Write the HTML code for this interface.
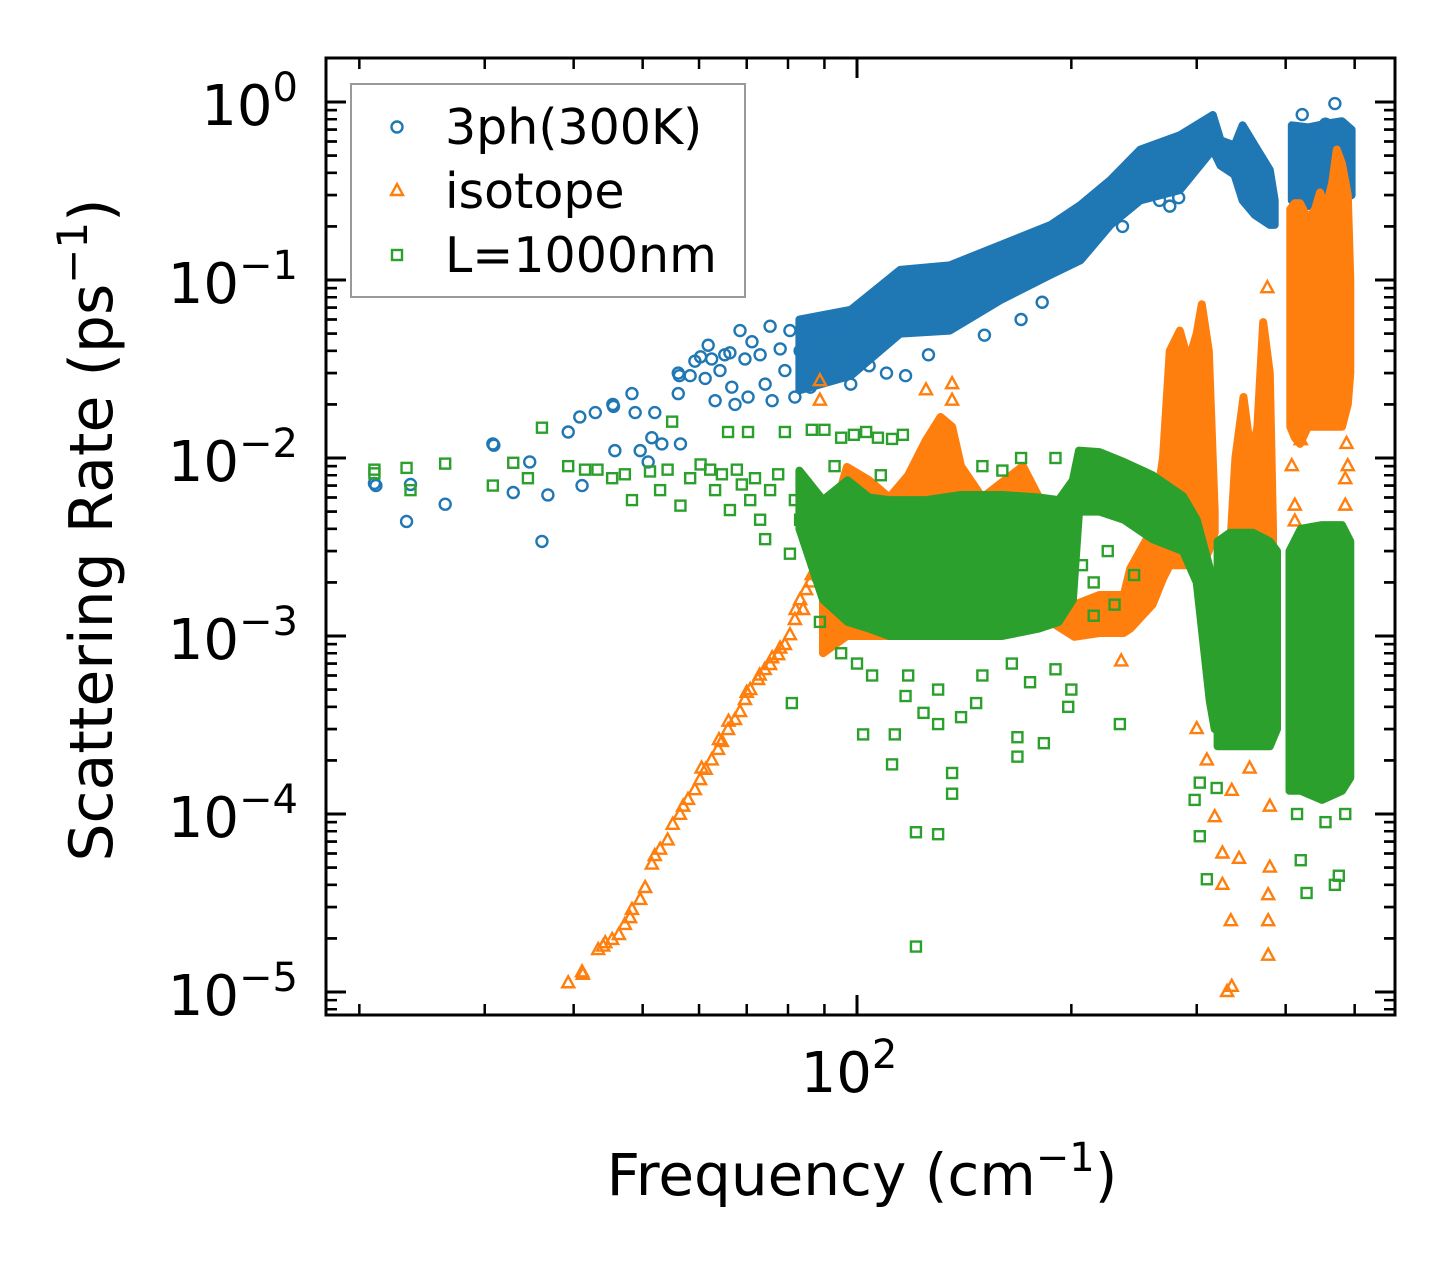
<!DOCTYPE html>
<html><head><meta charset="utf-8"><title>Scattering Rate</title>
<style>
html,body{margin:0;padding:0;background:#fff;}
svg{display:block;font-family:"DejaVu Sans","Liberation Sans",sans-serif;}
</style></head>
<body>
<svg id="chart" width="1455" height="1265" viewBox="0 0 1455 1265" xmlns="http://www.w3.org/2000/svg">
<rect x="0" y="0" width="1455" height="1265" fill="#fff"/>
<g id="marks"></g>
<g id="axes"></g>
<text x="298" y="125" font-size="56" text-anchor="end">10<tspan dy="-24" font-size="40">0</tspan></text>
<text x="298" y="303" font-size="56" text-anchor="end">10<tspan dy="-24" font-size="40">−1</tspan></text>
<text x="298" y="481" font-size="56" text-anchor="end">10<tspan dy="-24" font-size="40">−2</tspan></text>
<text x="298" y="659" font-size="56" text-anchor="end">10<tspan dy="-24" font-size="40">−3</tspan></text>
<text x="298" y="837" font-size="56" text-anchor="end">10<tspan dy="-24" font-size="40">−4</tspan></text>
<text x="298" y="1015" font-size="56" text-anchor="end">10<tspan dy="-24" font-size="40">−5</tspan></text>
<text x="849" y="1092" font-size="56" text-anchor="middle">10<tspan dy="-24" font-size="40">2</tspan></text>
<text x="862" y="1195" font-size="58" text-anchor="middle">Frequency (cm<tspan dy="-24" font-size="40">−1</tspan><tspan dy="24">)</tspan></text>
<text transform="translate(112,530) rotate(-90)" font-size="60" text-anchor="middle">Scattering Rate (ps<tspan dy="-25" font-size="42">−1</tspan><tspan dy="25">)</tspan></text>
<g>
<rect x="351" y="84" width="394" height="213" fill="#fff" fill-opacity="0.8" stroke="#999" stroke-width="2"/>
<circle cx="397" cy="127" r="5.5" fill="none" stroke="#1f77b4" stroke-width="2.4"/>
<text x="445" y="144" font-size="49">3ph(300K)</text>
<polygon points="397,184 403,195 391,195" fill="none" stroke="#ff7f0e" stroke-width="2.4"/>
<text x="445" y="208" font-size="49">isotope</text>
<rect x="392" y="250" width="10" height="10" fill="none" stroke="#2ca02c" stroke-width="2.4"/>
<text x="445" y="272" font-size="49">L=1000nm</text>
</g>
</svg>
<script>
// ---- data (frequency cm^-1, rate ps^-1) ----
const bluePoints = [[21,.0072],[21.1,.0070],[23.3,.0044],[23.6,.0071],[26.4,.0055],[30.8,.012],[30.9,.0118],[32.9,.0064],[34.7,.0095],[36.1,.0034],[36.8,.0062],[39.3,.014],[40.8,.017],[41.1,.007],[42.9,.018],[45.4,.020],[45.5,.0195],[45.7,.011],[48.3,.023],[48.8,.018],[49.6,.011],[50.9,.0095],[51.5,.013],[52,.018],[53.2,.012],[56.1,.023],[56.1,.030],[56.3,.029],[56.5,.012],[58.3,.029],[59.2,.035],[60.3,.037],[61.2,.028],[61.8,.043],[62.5,.036],[63.2,.021],[64.2,.031],[65.2,.038],[66.3,.039],[66.7,.025],[67.4,.020],[68.5,.052],[69.6,.036],[70.3,.022],[71.2,.045],[73.1,.038],[74.3,.026],[75.5,.055],[76,.021],[78,.041],[79.2,.031],[80.5,.052],[81.8,.022],[83.2,.040],[84,.030],[85,.058],[86,.025],[87,.045],[88,.035],[89,.050],[90,.028],[92,.055],[94,.030],[96,.060],[98,.026],[101,.065],[104,.033],[107,.068],[110,.030],[117,.029],[126,.038],[151,.049],[170,.060],[182,.075],[236,.20],[266,.28],[275,.26],[283,.29],[422,.85],[469,.98],[480,.70],[455,.75]];
const blueBand1 = [[83,.024,.060],[98,.029,.068],[115,.050,.114],[135,.052,.121],[159,.077,.157],[187,.107,.204],[206,.129,.264],[227,.204,.365],[250,.28,.54],[284,.32,.65],[316,.54,.845],[324,.44,.61],[339,.39,.57],[348,.28,.74],[362,.232,.57],[380,.204,.415],[386,.204,.28]];
const blueBand2 = [[408,.28,.74],[430,.26,.72],[460,.27,.76],[480,.28,.78],[495,.30,.70]];

const orangePoints = [[39.3,1.12e-5],[41.1,1.29e-5],[41.2,1.25e-5],[43.3,1.72e-5],[44.3,1.88e-5],[45.3,1.96e-5],[46.3,2.09e-5],[47.2,2.38e-5],[48.3,2.89e-5],[49.6,3.29e-5],[50.4,3.84e-5],[51.5,5.2e-5],[52.9,6.3e-5],[54.2,7.1e-5],[55.1,8.7e-5],[56.4,9.9e-5],[57.9,1.2e-4],[59.2,1.36e-4],[60.2,1.55e-4],[61.3,1.77e-4],[62.5,2.0e-4],[63.8,2.29e-4],[64.6,2.54e-4],[65.9,2.96e-4],[67.4,3.37e-4],[68.5,3.74e-4],[69.6,4.37e-4],[70.8,4.97e-4],[72.6,5.66e-4],[74.2,6.44e-4],[75.5,6.87e-4],[77.5,7.8e-4],[79.2,8.9e-4],[80.5,1.01e-3],[81.8,1.23e-3],[83.2,1.59e-3],[84.8,1.81e-3],[86.4,2.2e-3],[88.1,2.67e-3],[89.3,3.46e-3],[91,4.5e-3],[60.5,1.8e-4],[64,2.6e-4],[66,3.3e-4],[70,4.8e-4],[73,6e-4],[76,7.5e-4],[78,8.5e-4],[82,1.4e-3],[84,1.4e-3],[86,2.0e-3],[57,1.1e-4],[52,5.8e-5],[48,2.6e-5],[44,1.8e-5],[88.7,.027],[88.7,.021],[125,.024],[136,.026],[136,.021],[377,.09],[235,7.2e-4],[318,9.6e-5],[326,6.0e-5],[326,4.0e-5],[344,5.6e-5],[335,2.5e-5],[336,1.07e-5],[331,1.0e-5],[378,1.6e-5],[378,2.5e-5],[378,3.5e-5],[380,5e-5],[336,1.35e-4],[356,1.8e-4],[380,1.1e-4],[412,4.4e-3],[412,5.4e-3],[485,.0076],[485,.0054],[483,.0038],[300,3e-4],[310,2e-4],[420,.0126],[408,.009],[487,.012],[489,.009]];
const orangeBand1 = [[89.6,8e-4,.0030],[96.8,.0010,.0089],[104,.0010,.0075],[111,.0010,.0060],[118,.0010,.0080],[125,.0010,.0126],[131,.0012,.017],[136,.0012,.015],[140,.0012,.009],[150,.0012,.006],[171,.0012,.009],[187,.0012,.0045],[202,.00099,.0015],[219,.00104,.0017],[237,.00104,.0017],[242,.0011,.0024],[260,.0015,.0040],[269,.0021,.010],[275,.0025,.040],[284,.0025,.052],[292,.0025,.035],[300,.0025,.050],[305,.0025,.073],[312,.0030,.040],[318,.0038,.005]];
const orangeBand2 = [[334,4.8e-4,.0030],[340,4.8e-4,.010],[349,4.8e-4,.022],[358,4.8e-4,.010],[365,4.8e-4,.015],[372,4.8e-4,.058],[380,4.8e-4,.030],[384,4.8e-4,.004]];
const orangeBand3 = [[406,.015,.25],[412,.013,.27],[419,.012,.27],[430,.015,.22],[440,.015,.25],[447,.015,.31],[455,.015,.25],[465,.015,.35],[472,.015,.54],[480,.015,.45],[489,.02,.30],[493,.03,.10]];

const greenPoints = [[21,.0086],[21,.0082],[23.3,.0088],[23.6,.0066],[26.4,.0093],[30.8,.0070],[32.9,.0094],[34.5,.0077],[36.1,.0148],[39.3,.0090],[41.5,.0086],[43.2,.0086],[45.3,.0077],[47.2,.0081],[48.3,.0058],[51.2,.0084],[52.9,.0066],[54.2,.0086],[55,.016],[56.5,.0054],[58.3,.0077],[60.3,.0092],[62.2,.0086],[63.2,.0066],[64.6,.0081],[65.9,.014],[66.3,.0051],[67.8,.0086],[68.9,.0071],[70.3,.014],[70.8,.0058],[71.9,.0077],[73.1,.0045],[74.3,.0035],[75.5,.0066],[77.5,.0081],[79.2,.014],[80.5,.0029],[81.8,.0058],[83.2,.0045],[84.5,.0071],[86.4,.0144],[87.3,.0030],[88.7,.0012],[90,.0144],[93,.009],[95,.013],[99,.0135],[103,.014],[107,.013],[112,.0128],[116,.0135],[81,4.2e-4],[102,2.8e-4],[113,2.8e-4],[112,1.9e-4],[121,7.9e-5],[130,7.7e-5],[136,1.3e-4],[136,1.7e-4],[130,3.2e-4],[140,3.5e-4],[147,4.2e-4],[168,2.7e-4],[183,2.5e-4],[168,2.1e-4],[117,4.6e-4],[124,3.7e-4],[121,1.8e-5],[234,3.2e-4],[303,1.5e-4],[303,7.5e-5],[310,4.3e-5],[298,1.2e-4],[320,1.4e-4],[420,5.5e-5],[428,3.6e-5],[469,4.0e-5],[475,4.5e-5],[415,1e-4],[455,9e-5],[485,1e-4],[96,.0045],[108,.008],[150,.009],[170,.010],[190,.010],[160,.0085],[207,.0025],[215,.002],[225,.003],[245,.0022],[230,.0015],[215,.0013],[95,8e-4],[100,7e-4],[105,6e-4],[118,6e-4],[130,5e-4],[150,6e-4],[165,7e-4],[175,5.5e-4],[190,6.5e-4],[198,4e-4],[200,5e-4]];
const greenBand1 = [[83,.0040,.0085],[89.6,.0016,.0058],[97,.0012,.0075],[104,.0011,.0060],[111,.0010,.0058],[125,.0010,.0058],[140,.0010,.0062],[160,.0010,.0062],[180,.0011,.0060],[192,.0012,.0058],[201,.0016,.0075],[205,.0050,.0110],[219,.0050,.0108],[237,.0045,.0095],[260,.0035,.0080],[287,.0030,.0061],[300,.0020,.0045],[313,4.3e-4,.0024],[318,3.0e-4,.0015]];
const greenBand2 = [[321,2.4e-4,.0034],[334,2.4e-4,.0038],[360,2.4e-4,.0038],[380,2.4e-4,.0034],[389,3e-4,.0030]];
const greenBand3 = [[405,1.35e-4,.0030],[420,1.35e-4,.0040],[450,1.2e-4,.0042],[480,1.35e-4,.0042],[493,1.6e-4,.0034]];

const yMajorExps = [0,-1,-2,-3,-4,-5];
const xMinorValues = [20,30,40,50,60,70,80,90,200,300,400,500];
const xMajorValues = [100];

// ---- scales ----
const X = f => 857 + 712 * Math.log10(f / 100);
const Y = r => 102 - 178 * Math.log10(r);
const NS = 'http://www.w3.org/2000/svg';
const marks = document.getElementById('marks');
const axes = document.getElementById('axes');

function drawBand(arr, color, name) {
  const up = arr.map(d => X(d[0]).toFixed(1) + ',' + Y(d[2]).toFixed(1));
  const lo = arr.slice().reverse().map(d => X(d[0]).toFixed(1) + ',' + Y(d[1]).toFixed(1));
  const p = document.createElementNS(NS, 'polygon');
  p.setAttribute('points', up.concat(lo).join(' '));
  p.setAttribute('fill', color);
  p.setAttribute('stroke', color);
  p.setAttribute('stroke-width', '8');
  p.setAttribute('stroke-linejoin', 'round');
  
  
  marks.appendChild(p);
}
function drawPoints(arr, kind, color, name) {
  const g = document.createElementNS(NS, 'g');
  
  
  arr.forEach(d => {
    const x = X(d[0]), y = Y(d[1]);
    let el;
    if (kind === 'circle') {
      el = document.createElementNS(NS, 'circle');
      el.setAttribute('cx', x); el.setAttribute('cy', y); el.setAttribute('r', 5.5);
    } else if (kind === 'tri') {
      el = document.createElementNS(NS, 'polygon');
      el.setAttribute('points', x + ',' + (y - 7) + ' ' + (x + 6) + ',' + (y + 4) + ' ' + (x - 6) + ',' + (y + 4));
    } else {
      el = document.createElementNS(NS, 'rect');
      el.setAttribute('x', x - 5); el.setAttribute('y', y - 5); el.setAttribute('width', 10); el.setAttribute('height', 10);
    }
    el.setAttribute('fill', 'none');
    el.setAttribute('stroke', color);
    el.setAttribute('stroke-width', '2.4');
    
    
    g.appendChild(el);
  });
  marks.appendChild(g);
}

drawBand(blueBand1, '#1f77b4', 'three-phonon-cloud-main');
drawBand(blueBand2, '#1f77b4', 'three-phonon-cloud-high');
drawPoints(bluePoints, 'circle', '#1f77b4', 'three-phonon-series');
drawBand(orangeBand1, '#ff7f0e', 'isotope-cloud-mid');
drawBand(orangeBand2, '#ff7f0e', 'isotope-cloud-spike');
drawBand(orangeBand3, '#ff7f0e', 'isotope-cloud-high');
drawPoints(orangePoints, 'tri', '#ff7f0e', 'isotope-series');
drawBand(greenBand1, '#2ca02c', 'boundary-cloud-main');
drawBand(greenBand2, '#2ca02c', 'boundary-cloud-spike');
drawBand(greenBand3, '#2ca02c', 'boundary-cloud-high');
drawPoints(greenPoints, 'rect', '#2ca02c', 'boundary-series');

// ---- axes ----
const L = 326, R = 1395, T = 58, B = 1015;
function line(x1, y1, x2, y2, w, name) {
  const l = document.createElementNS(NS, 'line');
  l.setAttribute('x1', x1); l.setAttribute('y1', y1); l.setAttribute('x2', x2); l.setAttribute('y2', y2);
  l.setAttribute('stroke', '#000'); l.setAttribute('stroke-width', w);
  
  
  axes.appendChild(l);
}
yMajorExps.forEach(e => {
  const y = Y(Math.pow(10, e));
  line(L, y, L + 20, y, 3, 'y-major-tick');
  line(R, y, R - 20, y, 3, 'y-major-tick-right');
  for (let k = 2; k <= 9; k++) {
    [e, e - 1].forEach(ee => {
      const ym = Y(k * Math.pow(10, ee));
      if (ym > T + 2 && ym < B - 2) {
        line(L, ym, L + 11, ym, 2.5, 'y-minor-tick');
        line(R, ym, R - 11, ym, 2.5, 'y-minor-tick-right');
      }
    });
  }
});
xMajorValues.forEach(v => {
  const x = X(v);
  line(x, B, x, B - 20, 3, 'x-major-tick');
  line(x, T, x, T + 20, 3, 'x-major-tick-top');
});
xMinorValues.forEach(v => {
  const x = X(v);
  if (x > L + 2 && x < R - 2) {
    line(x, B, x, B - 11, 2.5, 'x-minor-tick');
    line(x, T, x, T + 11, 2.5, 'x-minor-tick-top');
  }
});
const frame = document.createElementNS(NS, 'rect');
frame.setAttribute('x', L); frame.setAttribute('y', T);
frame.setAttribute('width', R - L); frame.setAttribute('height', B - T);
frame.setAttribute('fill', 'none'); frame.setAttribute('stroke', '#000'); frame.setAttribute('stroke-width', '3');


axes.appendChild(frame);
</script>
</body></html>
